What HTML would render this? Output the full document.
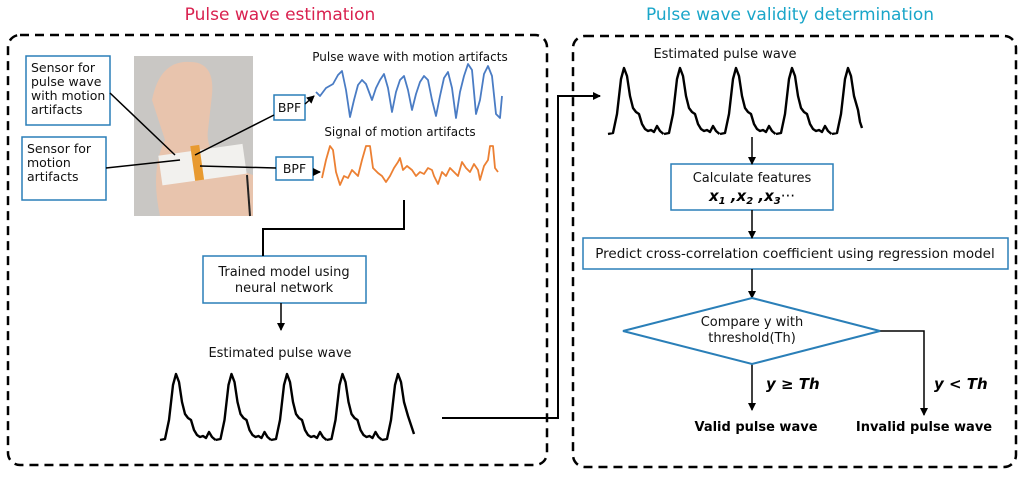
<!DOCTYPE html>
<html><head><meta charset="utf-8"><style>
html,body{margin:0;padding:0;background:#fff}
svg{display:block}
text{font-family:"DejaVu Sans","Liberation Sans",sans-serif}
</style></head><body>
<svg width="1024" height="477" viewBox="0 0 1024 477" xmlns="http://www.w3.org/2000/svg">
<defs>
<marker id="ar" markerWidth="8" markerHeight="8" refX="7" refY="4" orient="auto" markerUnits="userSpaceOnUse">
<path d="M0,0 L8,4 L0,8 z" fill="#000"/></marker>
<polyline id="beat" fill="none" stroke="#000" stroke-width="2.4" stroke-linejoin="round"
points="0,0 5,-1 9,-20 13,-55 16,-66 19,-58 22,-38 25,-26 28,-22 31,-20 34,-10 37,-5 40,-3 43,-4 46,-2 49,-8 52,-3 55.5,0"/>
</defs>
<text x="280" y="20" font-size="17" fill="#d9214f" text-anchor="middle">Pulse wave estimation</text>
<text x="790" y="20" font-size="17" fill="#1aa6c9" text-anchor="middle">Pulse wave validity determination</text>
<rect x="8" y="35" width="539" height="430" rx="12" fill="none" stroke="#000" stroke-width="2.5" stroke-dasharray="9,6"/>
<rect x="573" y="36" width="443" height="431" rx="12" fill="none" stroke="#000" stroke-width="2.5" stroke-dasharray="9,6"/>

<!-- photo -->
<rect x="134" y="56" width="119" height="160" fill="#c9c7c4"/>
<path d="M152,100 Q160,60 190,62 Q215,62 212,95 L208,130 Q205,150 225,165 L253,175 L253,216 L160,216 Q150,170 165,140 Z" fill="#e8c4ad"/>
<rect x="160" y="150" width="85" height="30" fill="#f2f1ee" transform="rotate(-8 200 165)"/>
<rect x="193" y="145" width="9" height="35" fill="#e89a30" transform="rotate(-8 200 165)"/>
<line x1="247" y1="175" x2="250" y2="216" stroke="#222" stroke-width="2"/>

<g fill="#fff" stroke="#2a7fb8" stroke-width="1.5">
<rect x="26" y="56" width="84" height="69"/>
<rect x="22" y="137" width="84" height="63"/>
<rect x="274" y="95" width="31" height="25"/>
<rect x="276" y="157" width="37" height="23"/>
<rect x="203" y="256" width="163" height="47"/>
<rect x="671" y="164" width="162" height="46"/>
<rect x="583" y="238" width="425" height="31"/>
</g>
<g font-size="12.5" fill="#111">
<text x="31" y="72">Sensor for</text><text x="31" y="86">pulse wave</text><text x="31" y="100">with motion</text><text x="31" y="114">artifacts</text>
<text x="27" y="153">Sensor for</text><text x="27" y="167">motion</text><text x="27" y="181">artifacts</text>
<text x="289.5" y="112" text-anchor="middle">BPF</text>
<text x="294.5" y="173" text-anchor="middle">BPF</text>
<text x="410" y="61" text-anchor="middle" font-size="12">Pulse wave with motion artifacts</text>
<text x="400" y="136" text-anchor="middle" font-size="12">Signal of motion artifacts</text>
<text x="284" y="276" text-anchor="middle" font-size="13">Trained model using</text>
<text x="284" y="292" text-anchor="middle" font-size="13">neural network</text>
<text x="280" y="357" text-anchor="middle" font-size="13">Estimated pulse wave</text>
<text x="725" y="58" text-anchor="middle" font-size="13">Estimated pulse wave</text>
<text x="752" y="182" text-anchor="middle" font-size="13">Calculate features</text>
<text x="795" y="258" text-anchor="middle" font-size="13.5">Predict cross-correlation coefficient using regression model</text>
<text x="752" y="326" text-anchor="middle" font-size="13">Compare y with</text>
<text x="752" y="342" text-anchor="middle" font-size="13">threshold(Th)</text>
</g>
<text x="752" y="201" text-anchor="middle" font-family="Liberation Serif,serif" font-style="italic" font-weight="bold" font-size="15">x<tspan font-size="10" dy="3">1</tspan><tspan dy="-3"> ,x</tspan><tspan font-size="10" dy="3">2</tspan><tspan dy="-3"> ,x</tspan><tspan font-size="10" dy="3">3</tspan><tspan dy="-3" font-style="normal" font-weight="normal">···</tspan></text>

<g stroke="#000" stroke-width="1.5" fill="none">
<line x1="110" y1="93" x2="175" y2="155"/>
<line x1="106" y1="168" x2="180" y2="160"/>
<line x1="195" y1="155" x2="274" y2="115"/>
<line x1="200" y1="166" x2="276" y2="168"/>
<line x1="305" y1="104" x2="314" y2="96" marker-end="url(#ar)"/>
<line x1="313" y1="172" x2="320" y2="172" marker-end="url(#ar)"/>
<polyline points="404,200 404,229 263,229 263,256" stroke-width="2"/>
<line x1="281" y1="303" x2="281" y2="330" marker-end="url(#ar)"/>
<polyline points="442,418 558,418 558,96 600,96" stroke-width="2" marker-end="url(#ar)"/>
<line x1="752" y1="137" x2="752" y2="164" marker-end="url(#ar)"/>
<line x1="752" y1="210" x2="752" y2="238" marker-end="url(#ar)"/>
<line x1="752" y1="269" x2="752" y2="298" marker-end="url(#ar)"/>
<line x1="752" y1="364" x2="752" y2="410" marker-end="url(#ar)"/>
<polyline points="880,331 924,331 924,415" marker-end="url(#ar)"/>
</g>
<polygon points="752,298 880,331 752,364 623,331" fill="none" stroke="#2a7fb8" stroke-width="2"/>
<text x="766" y="389" font-family="Liberation Serif,serif" font-style="italic" font-weight="bold" font-size="15">y ≥ Th</text>
<text x="934" y="389" font-family="Liberation Serif,serif" font-style="italic" font-weight="bold" font-size="15">y &lt; Th</text>
<text x="756" y="431" font-size="13" font-weight="bold" text-anchor="middle">Valid pulse wave</text>
<text x="924" y="431" font-size="13" font-weight="bold" text-anchor="middle">Invalid pulse wave</text>

<polyline fill="none" stroke="#4a7cc4" stroke-width="1.8" stroke-linejoin="round" points="316,92 320,96 326,88 333,84 338,75 342,71 346,90 350,117 354,100 358,85 362,80 366,84 372,100 376,88 380,80 384,74 388,88 392,112 396,92 400,80 404,76 408,90 412,110 416,94 420,82 424,76 428,80 432,100 436,116 440,96 444,78 448,72 452,88 456,118 460,92 464,76 468,64 472,70 476,114 480,100 484,74 488,66 492,76 496,114 500,118 502,96"/>
<polyline fill="none" stroke="#ec8033" stroke-width="1.8" stroke-linejoin="round" points="322,178 326,160 330,146 333,150 336,172 340,185 344,176 348,178 352,170 356,174 358,176 362,160 366,146 370,146 373,168 378,173 382,176 386,182 390,176 394,168 398,162 400,158 403,170 407,166 412,170 416,176 420,172 424,174 428,168 432,170 434,176 438,184 442,172 446,176 450,168 454,172 458,176 462,162 466,168 470,172 474,164 478,170 480,180 484,166 488,160 490,146 493,146 495,168 498,172"/>

<g transform="translate(160,440)">
<use href="#beat"/><use href="#beat" x="55.5"/><use href="#beat" x="111"/><use href="#beat" x="166.5"/>
<polyline fill="none" stroke="#000" stroke-width="2.4" stroke-linejoin="round" points="222,0 227,-1 231,-20 235,-55 238,-66 241,-58 244,-38 248,-24 252,-12 254,-6"/>
</g>
<g transform="translate(608,134)">
<use href="#beat"/><use href="#beat" x="56"/><use href="#beat" x="112"/><use href="#beat" x="168"/>
<polyline fill="none" stroke="#000" stroke-width="2.4" stroke-linejoin="round" points="224,0 229,-1 233,-20 237,-55 240,-66 243,-58 246,-38 250,-24 252,-12 254,-6"/>
</g>
</svg>
</body></html>
